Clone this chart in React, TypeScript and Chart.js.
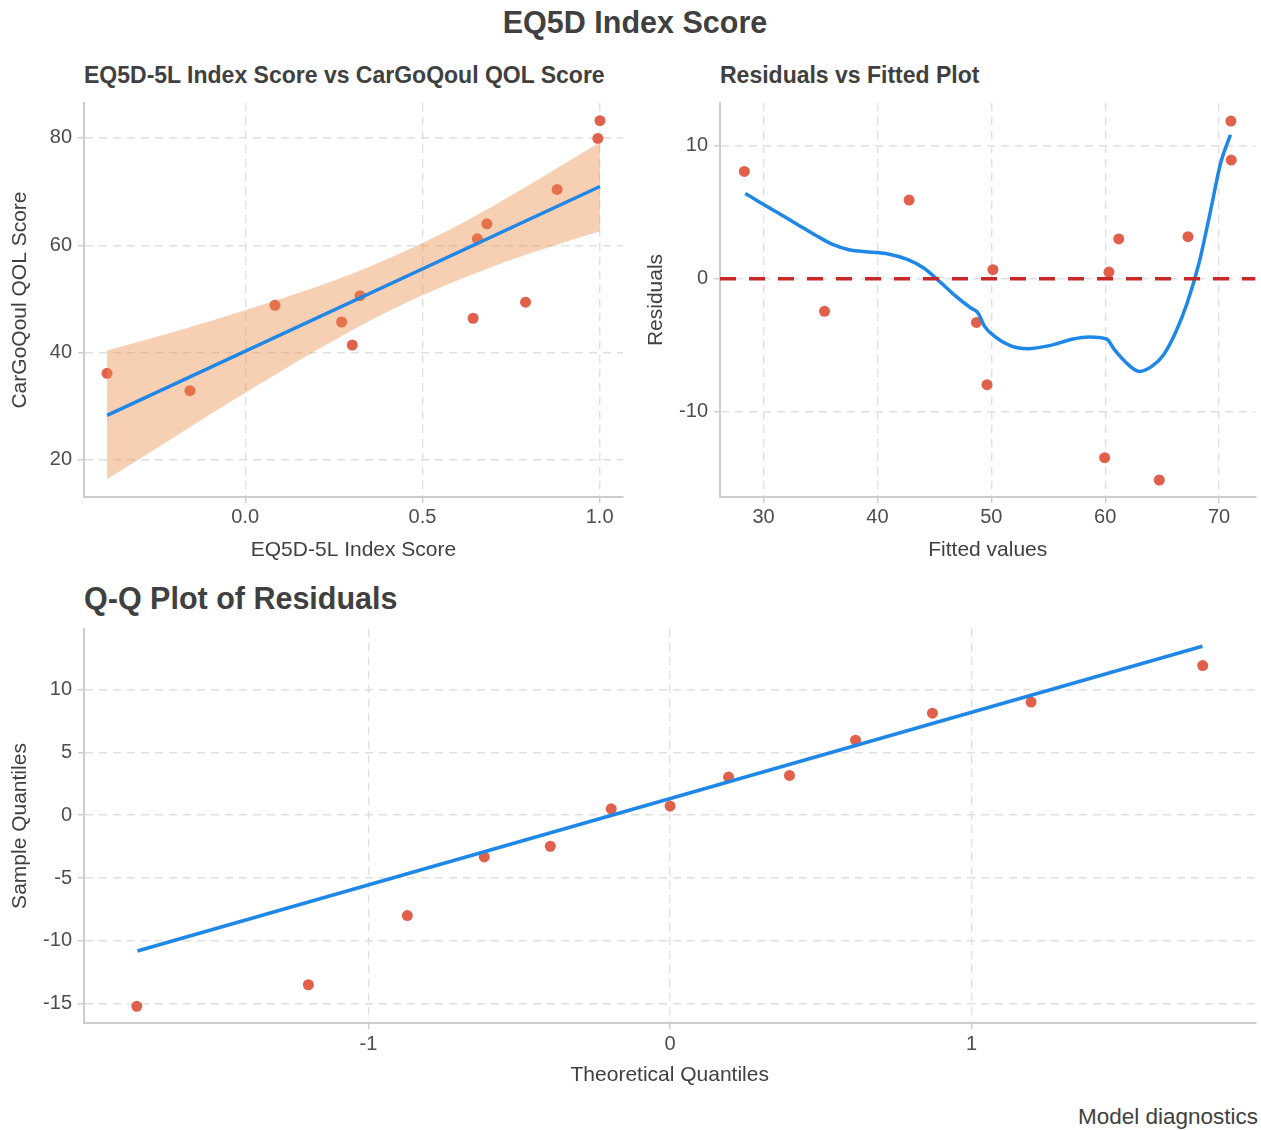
import React, { useEffect, useRef } from 'react';
import { Chart, registerables } from 'chart.js';
Chart.register(...registerables);

const FONT = '"Liberation Sans", Arial, Helvetica, sans-serif';
const POINT = '#E0604B';
const BLUE = '#1F87E5';
const BAND = 'rgba(236,140,75,0.42)';
const RED = '#C8282A';
const GRID = '#E0E0E0';
const AXIS = '#CDCDCD';
const TICK_TXT = '#4D4D4D';
const TITLE_TXT = '#404040';

// ---------- Panel 1: EQ5D-5L Index Score vs CarGoQoul QOL Score ----------
const eqIndex = [-0.39, -0.156, 0.084, 0.272, 0.302, 0.324, 0.643, 0.655, 0.682, 0.791, 0.88, 0.995, 1.001];
const qolScore = [36.15, 32.9, 48.8, 45.7, 41.4, 50.6, 46.4, 61.2, 64.0, 49.4, 70.4, 79.9, 83.2];
const fitLineX = [-0.39, 1.001];
const fitLineY = [28.3, 70.95];
const bandX = [-0.39, -0.2, 0, 0.2, 0.35, 0.5, 0.65, 0.8, 1.001];
const bandUpper = [40.4, 43.9, 47.9, 52.2, 56.0, 60.4, 65.5, 71.2, 79.2];
const bandLower = [16.4, 24.3, 32.5, 40.4, 45.9, 50.7, 54.8, 58.4, 62.6];
const p1XLimits = [-0.455, 1.066];
const p1YLimits = [13.1, 86.5];

// ---------- Panel 2: Residuals vs Fitted ----------
const fittedValues = [28.31, 35.35, 42.78, 48.69, 49.62, 50.14, 59.95, 60.33, 61.19, 64.75, 67.27, 71.04, 71.07];
const residuals = [8.08, -2.46, 5.92, -3.29, -7.98, 0.68, -13.48, 0.5, 2.99, -15.16, 3.16, 11.87, 8.93];
const loessX = [28.38, 29.55, 31.28, 33.0, 34.73, 36.11, 37.5, 39.22, 40.95, 42.68, 44.06, 45.44, 46.82, 48.2, 48.83, 49.41, 50.28, 51.66, 53.21, 55.11, 57.18, 58.57, 60.12, 60.81, 62.02, 62.99, 64.09, 65.13, 66.16, 67.2, 68.24, 69.27, 70.14, 71.0];
const loessY = [6.42, 5.82, 4.94, 4.07, 3.19, 2.56, 2.18, 2.01, 1.86, 1.43, 0.8, -0.2, -1.28, -2.21, -2.58, -3.59, -4.34, -5.04, -5.27, -5.04, -4.54, -4.39, -4.54, -5.35, -6.47, -6.98, -6.6, -5.72, -4.09, -1.83, 1.18, 5.19, 8.71, 10.84];
const p2XLimits = [26.17, 73.2];
const p2YLimits = [-16.44, 13.23];
const zeroLineY = [0, 0];

// ---------- Panel 3: Q-Q plot ----------
const theoreticalQ = [-1.768, -1.199, -0.871, -0.616, -0.397, -0.195, 0.0, 0.194, 0.396, 0.615, 0.87, 1.197, 1.766];
const sampleQ = [-15.19, -13.48, -7.98, -3.32, -2.47, 0.505, 0.72, 3.03, 3.16, 5.96, 8.11, 8.99, 11.89];
const qqLineX = [-1.766, 1.765];
const qqLineY = [-10.8, 13.43];
const p3XLimits = [-1.943, 1.941];
const p3YLimits = [-16.52, 14.8];

const pts = (xs: number[], ys: number[]) => xs.map((x, i) => ({ x, y: ys[i] }));

function axis(o: any) {
  const horizontal = o.horizontal;
  return {
    type: 'linear',
    position: horizontal ? 'bottom' : 'left',
    min: o.min,
    max: o.max,
    grid: {
      color: GRID,
      lineWidth: 1.4,
      drawTicks: true,
      tickLength: 6,
      tickColor: AXIS,
      tickWidth: 1.5,
      tickBorderDash: [],
    },
    border: { display: true, color: AXIS, width: 2, dash: [8, 6] },
    ticks: {
      stepSize: o.step,
      includeBounds: false,
      autoSkip: false,
      maxRotation: 0,
      minRotation: 0,
      padding: o.tickPad,
      color: TICK_TXT,
      font: { family: FONT, size: 20 },
      callback: o.fmt || ((v: number) => String(v)),
    },
    title: {
      display: true,
      text: o.title,
      color: TITLE_TXT,
      font: { family: FONT, size: 21 },
      padding: horizontal ? { top: 0, bottom: o.titlePad } : { top: o.titlePad, bottom: 0 },
    },
    afterFit: (s: any) => {
      if (horizontal) s.height = o.size;
      else s.width = o.size;
      s.paddingTop = 0;
      s.paddingBottom = 0;
      s.paddingLeft = 0;
      s.paddingRight = 0;
    },
  };
}

const baseOptions = (padding: any, xAxis: any, yAxis: any) => ({
  responsive: false,
  maintainAspectRatio: false,
  animation: false,
  events: [],
  layout: { padding },
  plugins: { legend: { display: false }, tooltip: { enabled: false } },
  scales: { x: xAxis, y: yAxis },
});

function makeP1(): any {
  return {
    type: 'scatter',
    data: {
      datasets: [
        { data: pts(fitLineX, fitLineY), showLine: true, borderColor: BLUE, borderWidth: 3.5, pointRadius: 0, order: 0 },
        { data: pts(bandX, bandUpper), showLine: true, borderColor: 'rgba(0,0,0,0)', borderWidth: 0, pointRadius: 0, fill: '+1', backgroundColor: BAND, cubicInterpolationMode: 'monotone', order: 1 },
        { data: pts(bandX, bandLower), showLine: true, borderColor: 'rgba(0,0,0,0)', borderWidth: 0, pointRadius: 0, fill: false, cubicInterpolationMode: 'monotone', order: 1 },
        { data: pts(eqIndex, qolScore), pointRadius: 5.5, backgroundColor: POINT, pointBorderWidth: 0, borderWidth: 0, order: 2 },
      ],
    },
    options: baseOptions(
      { left: 0, top: 8, right: 17, bottom: 0 },
      axis({ horizontal: true, min: p1XLimits[0], max: p1XLimits[1], step: 0.5, tickPad: 2, title: 'EQ5D-5L Index Score', titlePad: 12.4, size: 78, fmt: (v: number) => v.toFixed(1) }),
      axis({ horizontal: false, min: p1YLimits[0], max: p1YLimits[1], step: 20, tickPad: 6, title: 'CarGoQoul QOL Score', titlePad: 7.4, size: 84 })
    ),
  };
}

function makeP2(): any {
  return {
    type: 'scatter',
    data: {
      datasets: [
        { data: pts(p2XLimits, zeroLineY), showLine: true, borderColor: RED, borderWidth: 3.5, borderDash: [16, 13], pointRadius: 0, order: 0 },
        { data: pts(loessX, loessY), showLine: true, borderColor: BLUE, borderWidth: 3.5, pointRadius: 0, cubicInterpolationMode: 'monotone', order: 1 },
        { data: pts(fittedValues, residuals), pointRadius: 5.5, backgroundColor: POINT, pointBorderWidth: 0, borderWidth: 0, order: 2 },
      ],
    },
    options: baseOptions(
      { left: 0, top: 8, right: 3, bottom: 0 },
      axis({ horizontal: true, min: p2XLimits[0], max: p2XLimits[1], step: 10, tickPad: 2, title: 'Fitted values', titlePad: 12.4, size: 78 }),
      axis({ horizontal: false, min: p2YLimits[0], max: p2YLimits[1], step: 10, tickPad: 6, title: 'Residuals', titlePad: 3.4, size: 80 })
    ),
  };
}

function makeP3(): any {
  return {
    type: 'scatter',
    data: {
      datasets: [
        { data: pts(qqLineX, qqLineY), showLine: true, borderColor: BLUE, borderWidth: 3.5, pointRadius: 0, order: 0 },
        { data: pts(theoreticalQ, sampleQ), pointRadius: 5.5, backgroundColor: POINT, pointBorderWidth: 0, borderWidth: 0, order: 1 },
      ],
    },
    options: baseOptions(
      { left: 0, top: 54, right: 3, bottom: 0 },
      axis({ horizontal: true, min: p3XLimits[0], max: p3XLimits[1], step: 1, tickPad: 3, title: 'Theoretical Quantiles', titlePad: 42.4, size: 107 }),
      axis({ horizontal: false, min: p3YLimits[0], max: p3YLimits[1], step: 5, tickPad: 6, title: 'Sample Quantiles', titlePad: 7.4, size: 84 })
    ),
  };
}

function ChartCanvas(props: { left: number; top: number; width: number; height: number; make: () => any }) {
  const ref = useRef<HTMLCanvasElement>(null);
  useEffect(() => {
    const chart = new Chart(ref.current as HTMLCanvasElement, props.make());
    return () => chart.destroy();
  }, []);
  return (
    <canvas
      ref={ref}
      width={props.width}
      height={props.height}
      style={{ position: 'absolute', left: props.left, top: props.top, width: props.width, height: props.height }}
    />
  );
}

function Label(props: { text: string; left?: number; right?: number; top: number; size: number; bold?: boolean; width?: number; align?: any; color?: string }) {
  return (
    <div
      style={{
        position: 'absolute',
        left: props.left,
        right: props.right,
        top: props.top,
        width: props.width,
        textAlign: props.align || 'left',
        fontFamily: FONT,
        fontSize: props.size,
        fontWeight: props.bold ? 'bold' : 'normal',
        lineHeight: `${props.size * 1.2}px`,
        color: props.color || TITLE_TXT,
        whiteSpace: 'nowrap',
      }}
    >
      {props.text}
    </div>
  );
}

export default function App() {
  return (
    <div style={{ position: 'absolute', left: 0, top: 0, width: 1261, height: 1130, background: '#ffffff', overflow: 'hidden' }}>
      <Label text="EQ5D Index Score" left={0} width={1270} align="center" top={3.7} size={30.5} bold />
      <Label text="EQ5D-5L Index Score vs CarGoQoul QOL Score" left={84} top={62.2} size={23} bold />
      <Label text="Residuals vs Fitted Plot" left={720} top={62.2} size={23} bold />
      <Label text="Q-Q Plot of Residuals" left={84} top={579.7} size={30.5} bold />
      <Label text="Model diagnostics" right={3} top={1103} size={22.5} align="right" />
      <ChartCanvas left={0} top={95} width={640} height={480} make={makeP1} />
      <ChartCanvas left={640} top={95} width={621} height={480} make={makeP2} />
      <ChartCanvas left={0} top={575} width={1261} height={555} make={makeP3} />
    </div>
  );
}
